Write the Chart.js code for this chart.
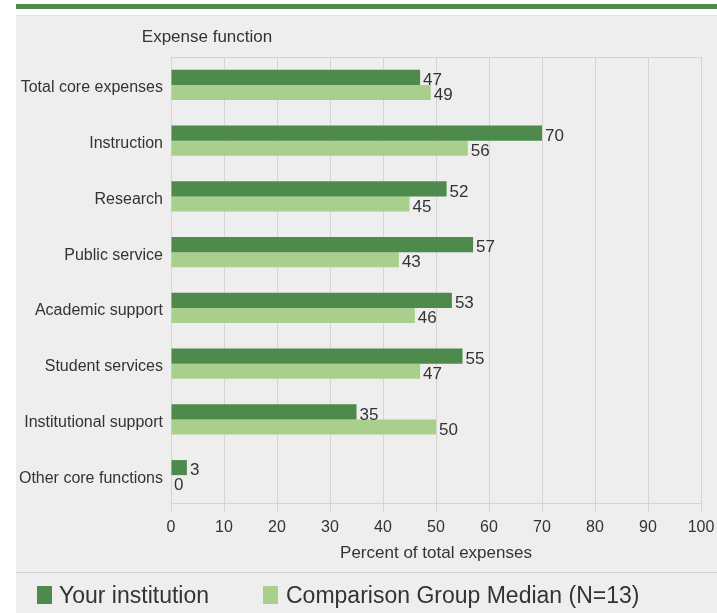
<!DOCTYPE html>
<html>
<head>
<meta charset="utf-8">
<script src="https://cdn.jsdelivr.net/npm/chart.js@4/dist/chart.umd.min.js"></script>
<style>
  html, body { margin:0; padding:0; background:#fff; }
  body { width:717px; height:613px; position:relative; overflow:hidden;
         font-family:"Liberation Sans",Arial,sans-serif; }
  .topbar { position:absolute; left:16px; top:4px; width:701px; height:5px; background:#4f8b4b; }
  .panel { position:absolute; left:16px; top:15px; width:701px; height:598px; background:#eeeeee;
           border-top:1px solid #e2e2e2; box-sizing:border-box; }
  #chart { position:absolute; left:0; top:0; }
  .sep { position:absolute; left:16px; top:572px; width:701px; height:0; border-top:1px solid #d2d2d2; }
  .legend { position:absolute; left:0; top:578px; height:34px; font-size:23px; color:#333; line-height:34px; }
  .legend .box { position:absolute; top:8px; width:15px; height:18px; }
  .legend span.txt { position:absolute; white-space:nowrap; }
</style>
</head>
<body>
<div class="topbar"></div>
<div class="panel"></div>
<canvas id="chart" width="717" height="613"></canvas>
<div class="sep"></div>
<div class="legend" id="legend"></div>

<script>
/* ======== DATA ======== */
const categories = ['Total core expenses','Instruction','Research','Public service',
  'Academic support','Student services','Institutional support','Other core functions'];
const institution = [47, 70, 52, 57, 53, 55, 35, 3];
const groupMedian = [49, 56, 45, 43, 46, 47, 50, 0];
const seriesNames = ['Your institution', 'Comparison Group Median (N=13)'];
const xTicks = [0, 10, 20, 30, 40, 50, 60, 70, 80, 90, 100];

const DARK = '#4e8a4b', LIGHT = '#a8cf8c';
const FONT = '"Liberation Sans",Arial,sans-serif';

/* ======== PLUGINS ======== */
// value labels at the end of each bar
const valueLabels = {
  id:'valueLabels',
  afterDatasetsDraw(chart){
    const ctx = chart.ctx;
    ctx.save();
    ctx.font = '17px ' + FONT;
    ctx.fillStyle = '#333';
    ctx.textAlign = 'left';
    ctx.textBaseline = 'middle';
    chart.data.datasets.forEach((ds, di)=>{
      chart.getDatasetMeta(di).data.forEach((bar, i)=>{
        ctx.fillText(String(ds.data[i]), bar.x + 3, bar.y + 3);
      });
    });
    ctx.restore();
  }
};
// plot frame + axis heading
const frame = {
  id:'frame',
  beforeDatasetsDraw(chart){
    const {ctx, chartArea:a} = chart;
    ctx.save();
    ctx.strokeStyle = '#d4d4d4';
    ctx.lineWidth = 1;
    ctx.strokeRect(Math.round(a.left)+0.5, Math.round(a.top)+0.5,
                   Math.round(a.right-a.left), Math.round(a.bottom-a.top));
    ctx.restore();
  },
  afterDraw(chart){
    const ctx = chart.ctx;
    ctx.save();
    ctx.font = '17px ' + FONT;
    ctx.fillStyle = '#333';
    ctx.textAlign = 'center';
    ctx.textBaseline = 'middle';
    ctx.fillText('Expense function', 207, 37);
    ctx.restore();
  }
};

/* ======== CHART ======== */
new Chart(document.getElementById('chart'), {
  type:'bar',
  data:{
    labels:categories,
    datasets:[
      { label:seriesNames[0], data:institution, backgroundColor:DARK },
      { label:seriesNames[1], data:groupMedian, backgroundColor:LIGHT }
    ]
  },
  options:{
    indexAxis:'y',
    responsive:false,
    animation:false,
    devicePixelRatio:1,
    layout:{ padding:{ left:0, top:57, right:16, bottom:48 } },
    datasets:{ bar:{ barPercentage:1, categoryPercentage:0.54 } },
    plugins:{ legend:{ display:false }, tooltip:{ enabled:false } },
    scales:{
      x:{
        min:0, max:100,
        afterFit(s){ s.height = 62; s.paddingLeft = 0; s.paddingRight = 0; },
        afterBuildTicks(s){ s.ticks = xTicks.map(v=>({ value:v })); },
        grid:{ color:'#d4d4d4', tickLength:9, tickColor:'#d4d4d4' },
        border:{ color:'#d4d4d4' },
        ticks:{ color:'#333', padding:6, font:{ family:FONT, size:16 } },
        title:{ display:true, text:'Percent of total expenses', color:'#333',
                padding:{ top:0, bottom:1 }, font:{ family:FONT, size:17 } }
      },
      y:{
        afterFit(s){ s.width = 171; s.paddingTop = 0; s.paddingBottom = 0; },
        grid:{ display:false, tickLength:0 },
        border:{ color:'#d4d4d4' },
        ticks:{ color:'#333', padding:8, labelOffset:3, font:{ family:FONT, size:16 } }
      }
    }
  },
  plugins:[frame, valueLabels]
});

/* ======== LEGEND (html) ======== */
const legendPos = [{ box:37, text:59 }, { box:263, text:286 }];
document.getElementById('legend').innerHTML = seriesNames.map((n, i)=>`
  <div class="box" style="left:${legendPos[i].box}px;background:${i ? LIGHT : DARK}"></div>
  <span class="txt" style="left:${legendPos[i].text}px">${n}</span>
`).join('');
</script>
</body>
</html>
